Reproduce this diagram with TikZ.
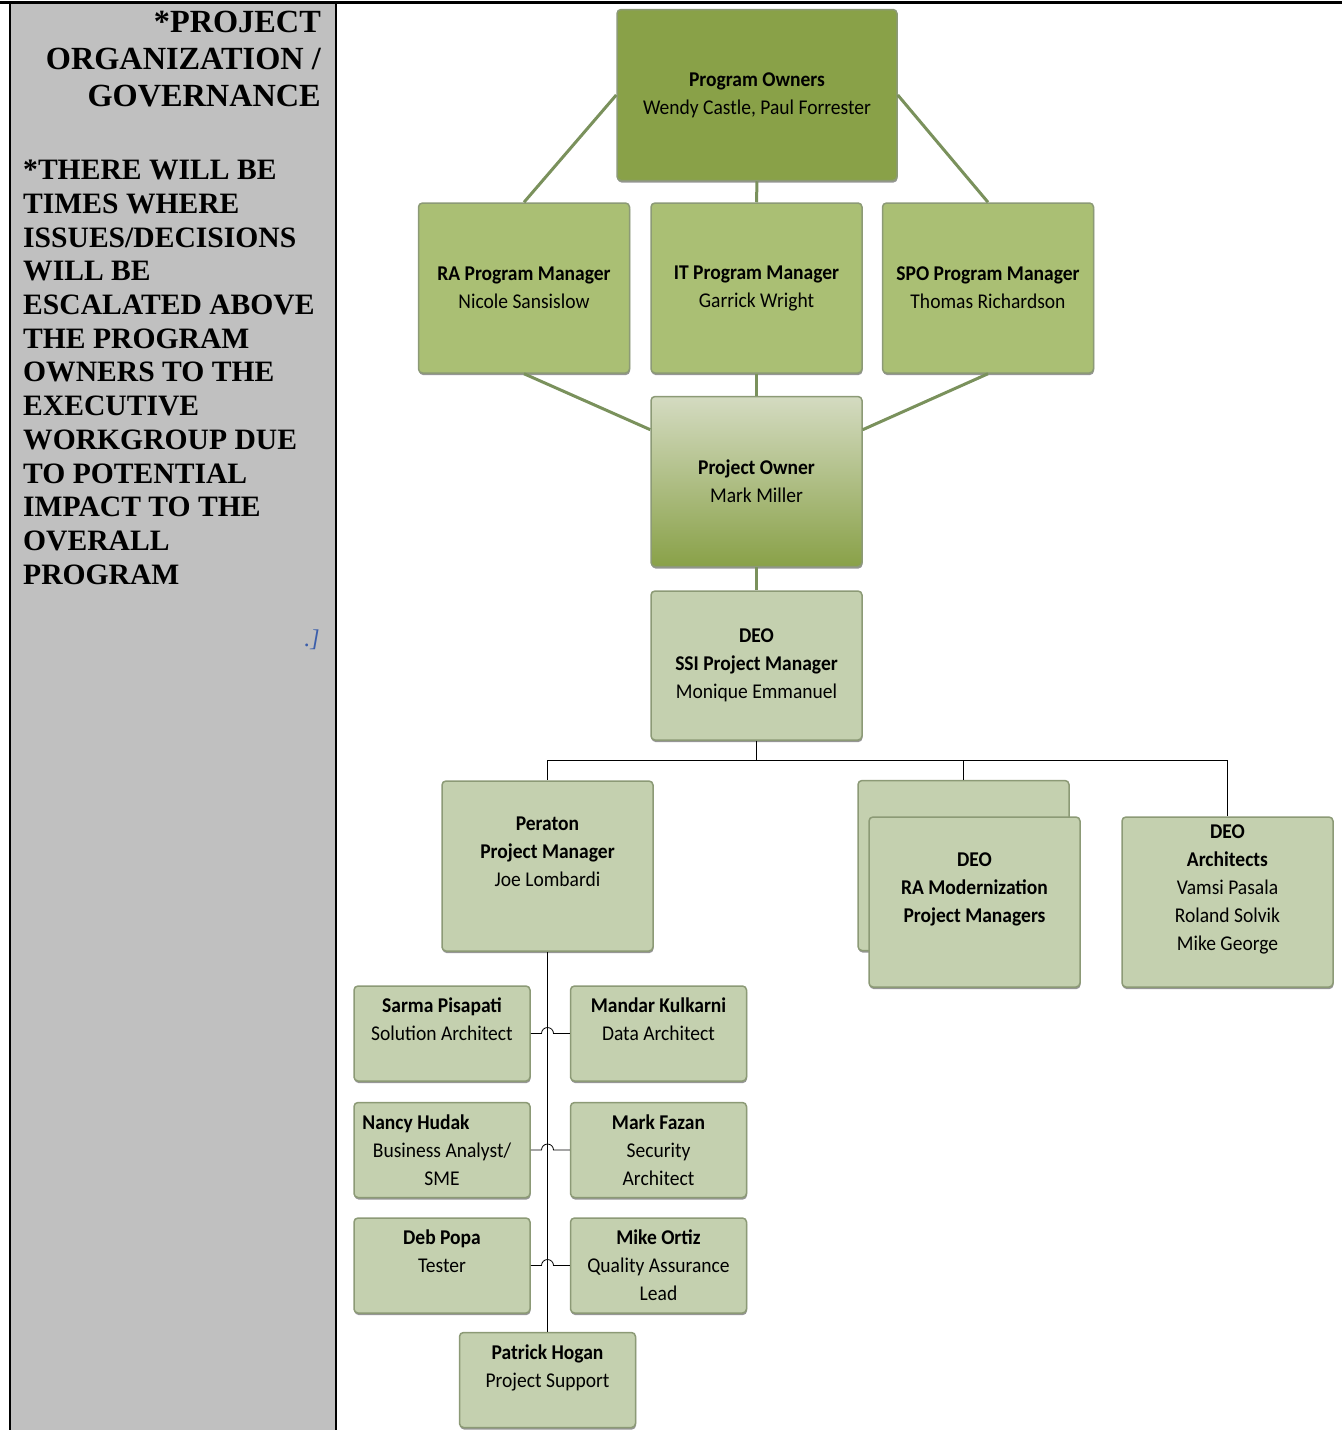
\documentclass[tikz,border=0pt]{standalone}
\usepackage{fontspec}
\setmainfont{Liberation Serif}
\newfontfamily\boxfont[FakeStretch=0.93]{Carlito}
\usetikzlibrary{positioning,shadows}
\definecolor{ownergreen}{RGB}{137,161,72}
\definecolor{mgrgreen}{RGB}{170,191,116}
\definecolor{potop}{RGB}{212,219,193}
\definecolor{sage}{RGB}{196,208,175}
\definecolor{boxedge}{RGB}{140,154,118}
\definecolor{edgegreen}{RGB}{122,145,92}
\definecolor{panelgray}{RGB}{192,192,192}
\definecolor{notemark}{RGB}{59,94,171}
\tikzstyle{orgbox} = [draw=boxedge, line width=1.5pt, rounded corners=4pt, align=center, inner sep=0pt,
  font=\boxfont\fontsize{21}{28}\selectfont, minimum width=211pt, minimum height=170pt,
  drop shadow={shadow xshift=0.5pt, shadow yshift=-2pt, fill=black!75, opacity=0.55}]
\tikzstyle{smallbox} = [orgbox, minimum width=176pt, minimum height=95pt]
\tikzstyle{connector} = [line width=0.8pt]
\tikzstyle{oliveline} = [draw=edgegreen, line width=3pt]

\begin{document}
\begin{tikzpicture}[x=1pt, y=-1pt, node distance=20pt]
\useasboundingbox (0,0) rectangle (1342,1430);
% side panel
\fill[panelgray] (10,2) rectangle (336,1430);
\draw[line width=3pt] (0,2) -- (1342,2);
\draw[line width=2.5pt] (10,2) -- (10,1430);
\draw[line width=2.5pt] (336,2) -- (336,1430);
\node[anchor=north east, align=right, inner sep=0pt, font=\bfseries\fontsize{32.3}{37}\selectfont] (title) at (321,11)
  {*PROJECT\\ORGANIZATION /\\GOVERNANCE};
\node[anchor=north west, align=left, inner sep=0pt, font=\bfseries\fontsize{29.6}{33.7}\selectfont] (note) at (23,160)
  {*THERE WILL BE\\TIMES WHERE\\ISSUES/DECISIONS\\WILL BE\\ESCALATED ABOVE\\THE PROGRAM\\OWNERS TO THE\\EXECUTIVE\\WORKGROUP DUE\\TO POTENTIAL\\IMPACT TO THE\\OVERALL\\PROGRAM};
\node[text=notemark, font=\itshape\fontsize{24}{24}\selectfont] (mark) at (312,640) {.]};

% program level
\node[orgbox, fill=ownergreen, minimum width=280pt, minimum height=171pt] (owners) at (757,95)
  {\textbf{Program Owners}\\Wendy Castle, Paul Forrester};
\node[orgbox, fill=mgrgreen] (itpm) at (756.5,288) {\textbf{IT Program Manager}\\Garrick Wright};
\node[orgbox, fill=mgrgreen, left=20pt of itpm] (rapm) {\textbf{RA Program Manager}\\Nicole Sansislow};
\node[orgbox, fill=mgrgreen, right=19pt of itpm] (spopm) {\textbf{SPO Program Manager}\\Thomas Richardson};
\node[orgbox, top color=potop, bottom color=ownergreen, below=22pt of itpm] (powner)
  {\textbf{Project Owner}\\Mark Miller};
\node[orgbox, fill=sage, minimum height=149pt, below=23pt of powner] (ssi)
  {\textbf{DEO}\\\textbf{SSI Project Manager}\\Monique Emmanuel};

% project level
\node[orgbox, fill=sage] (peraton) at (547.5,866)
  {\textbf{Peraton}\\\textbf{Project Manager}\\Joe Lombardi\\~};
\node[orgbox, fill=sage] (deoback) at (963.5,865.5) {};
\node[orgbox, fill=sage] (ramod) at (974.5,902)
  {\textbf{DEO}\\\textbf{RA Modernization}\\\textbf{Project Managers}\\~};
\node[orgbox, fill=sage] (archs) at (1227.5,902)
  {\textbf{DEO}\\\textbf{Architects}\\Vamsi Pasala\\Roland Solvik\\Mike George\\~};

% peraton team
\node[smallbox, fill=sage] (sarma) at (442,1033.5) {\textbf{Sarma Pisapati}\\Solution Architect\\~};
\node[smallbox, fill=sage, right=39pt of sarma] (mandar) {\textbf{Mandar Kulkarni}\\Data Architect\\~};
\node[smallbox, fill=sage, below=20pt of sarma] (nancy) {\textbf{Nancy Hudak}\hspace*{52pt}\\Business Analyst/\\SME};
\node[smallbox, fill=sage, right=39pt of nancy] (fazan) {\textbf{Mark Fazan}\\Security\\Architect};
\node[smallbox, fill=sage, below=19pt of nancy] (deb) {\textbf{Deb Popa}\\Tester\\~};
\node[smallbox, fill=sage, right=39pt of deb] (ortiz) {\textbf{Mike Ortiz}\\Quality Assurance\\Lead};
\node[smallbox, fill=sage] (patrick) at (547.5,1380) {\textbf{Patrick Hogan}\\Project Support\\~};

\draw[oliveline] (owners.west) -- (rapm.north);
\draw[oliveline] (owners.east) -- (spopm.north);
\draw[oliveline] (owners.south) -- (itpm.north);
\draw[oliveline] (rapm.south) -- (powner.154);
\draw[oliveline] (spopm.south) -- (powner.26);
\draw[oliveline] (itpm.south) -- (powner.north);
\draw[oliveline] (powner.south) -- (ssi.north);

\draw[connector] (ssi.south) -- ++(0,20) coordinate (bus) -| (peraton.north);
\draw[connector] (bus) -| (deoback.north);
\draw[connector] (bus) -| (archs.north);
\draw[connector] (peraton.south) -- (patrick.north);
\draw[connector] (sarma.east) -- ([xshift=-6pt]sarma.east -| peraton.south) arc[start angle=180, end angle=360, radius=6] -- (mandar.west);
\draw[connector] (nancy.east) -- ([xshift=-6pt]nancy.east -| peraton.south) arc[start angle=180, end angle=360, radius=6] -- (fazan.west);
\draw[connector] (deb.east) -- ([xshift=-6pt]deb.east -| peraton.south) arc[start angle=180, end angle=360, radius=6] -- (ortiz.west);
\end{tikzpicture}
\end{document}
